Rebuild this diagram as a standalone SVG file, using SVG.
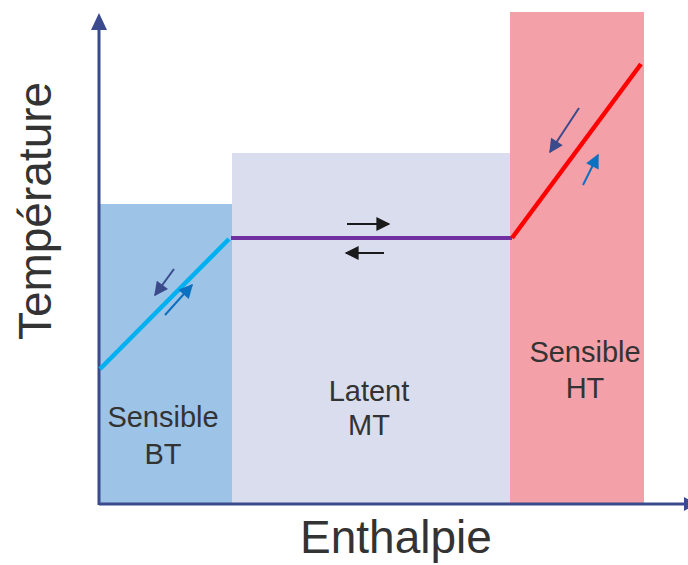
<svg xmlns="http://www.w3.org/2000/svg" width="688" height="565" viewBox="0 0 688 565">
<style>
.lbl{font-family:"Liberation Sans",Arial,sans-serif;fill:#333333;text-anchor:middle}
.box{font-size:29px}
.ax{font-size:46px}
</style>
<defs>
<marker id="ahk" viewBox="0 0 10 10" refX="9" refY="5" markerWidth="16" markerHeight="14" orient="auto" markerUnits="userSpaceOnUse">
<path d="M0,0 L10,5 L0,10 z" fill="#1a1a1a"/>
</marker>
<marker id="ahn" viewBox="0 0 10 10" refX="9" refY="5" markerWidth="16" markerHeight="14" orient="auto" markerUnits="userSpaceOnUse">
<path d="M0,0 L10,5 L0,10 z" fill="#3A4A8A"/>
</marker>
<marker id="ahb" viewBox="0 0 10 10" refX="9" refY="5" markerWidth="16" markerHeight="14" orient="auto" markerUnits="userSpaceOnUse">
<path d="M0,0 L10,5 L0,10 z" fill="#0A70C0"/>
</marker>
</defs>
<g id="zone-bt">
<rect x="100" y="204" width="132" height="300" fill="#9DC3E6"/>
<text class="lbl box" x="163" y="427">Sensible</text>
<text class="lbl box" x="163" y="464">BT</text>
</g>
<g id="zone-mt">
<rect x="232" y="153" width="278" height="351" fill="#DADDED"/>
<text class="lbl box" x="369" y="401">Latent</text>
<text class="lbl box" x="369" y="435">MT</text>
</g>
<g id="zone-ht">
<rect x="510" y="12" width="134" height="492" fill="#F4A0A8"/>
<text class="lbl box" x="585" y="362">Sensible</text>
<text class="lbl box" x="585" y="398">HT</text>
</g>
<g id="axes">
<line x1="99" y1="505" x2="99" y2="28" stroke="#3B4A8C" stroke-width="3"/>
<path d="M91,30 L99,13 L107,30 z" fill="#3B4A8C"/>
<line x1="99" y1="504" x2="684" y2="504" stroke="#3B4A8C" stroke-width="3"/>
<path d="M684,497 L696,504 L684,511 z" fill="#3B4A8C"/>
<text class="lbl ax" x="396" y="553">Enthalpie</text>
<text class="lbl ax" transform="translate(51,211) rotate(-90)" x="0" y="0">Température</text>
</g>
<g id="connectors">
<line x1="100" y1="369" x2="229" y2="239" stroke="#00B0F0" stroke-width="4.5"/>
<line x1="231" y1="238" x2="512" y2="238" stroke="#7030A0" stroke-width="4"/>
<line x1="512" y1="238" x2="641" y2="64" stroke="#FF0000" stroke-width="4.5"/>
<line x1="174" y1="269" x2="155" y2="295" stroke="#3A4A8A" stroke-width="2" marker-end="url(#ahn)"/>
<line x1="165" y1="315" x2="192" y2="285" stroke="#0A70C0" stroke-width="2" marker-end="url(#ahb)"/>
<line x1="347" y1="224" x2="389" y2="224" stroke="#1a1a1a" stroke-width="2" marker-end="url(#ahk)"/>
<line x1="384" y1="253" x2="346" y2="253" stroke="#1a1a1a" stroke-width="2" marker-end="url(#ahk)"/>
<line x1="579" y1="108" x2="550" y2="152" stroke="#3A4A8A" stroke-width="2" marker-end="url(#ahn)"/>
<line x1="583" y1="185" x2="598" y2="155" stroke="#0A70C0" stroke-width="2" marker-end="url(#ahb)"/>
</g>
</svg>
